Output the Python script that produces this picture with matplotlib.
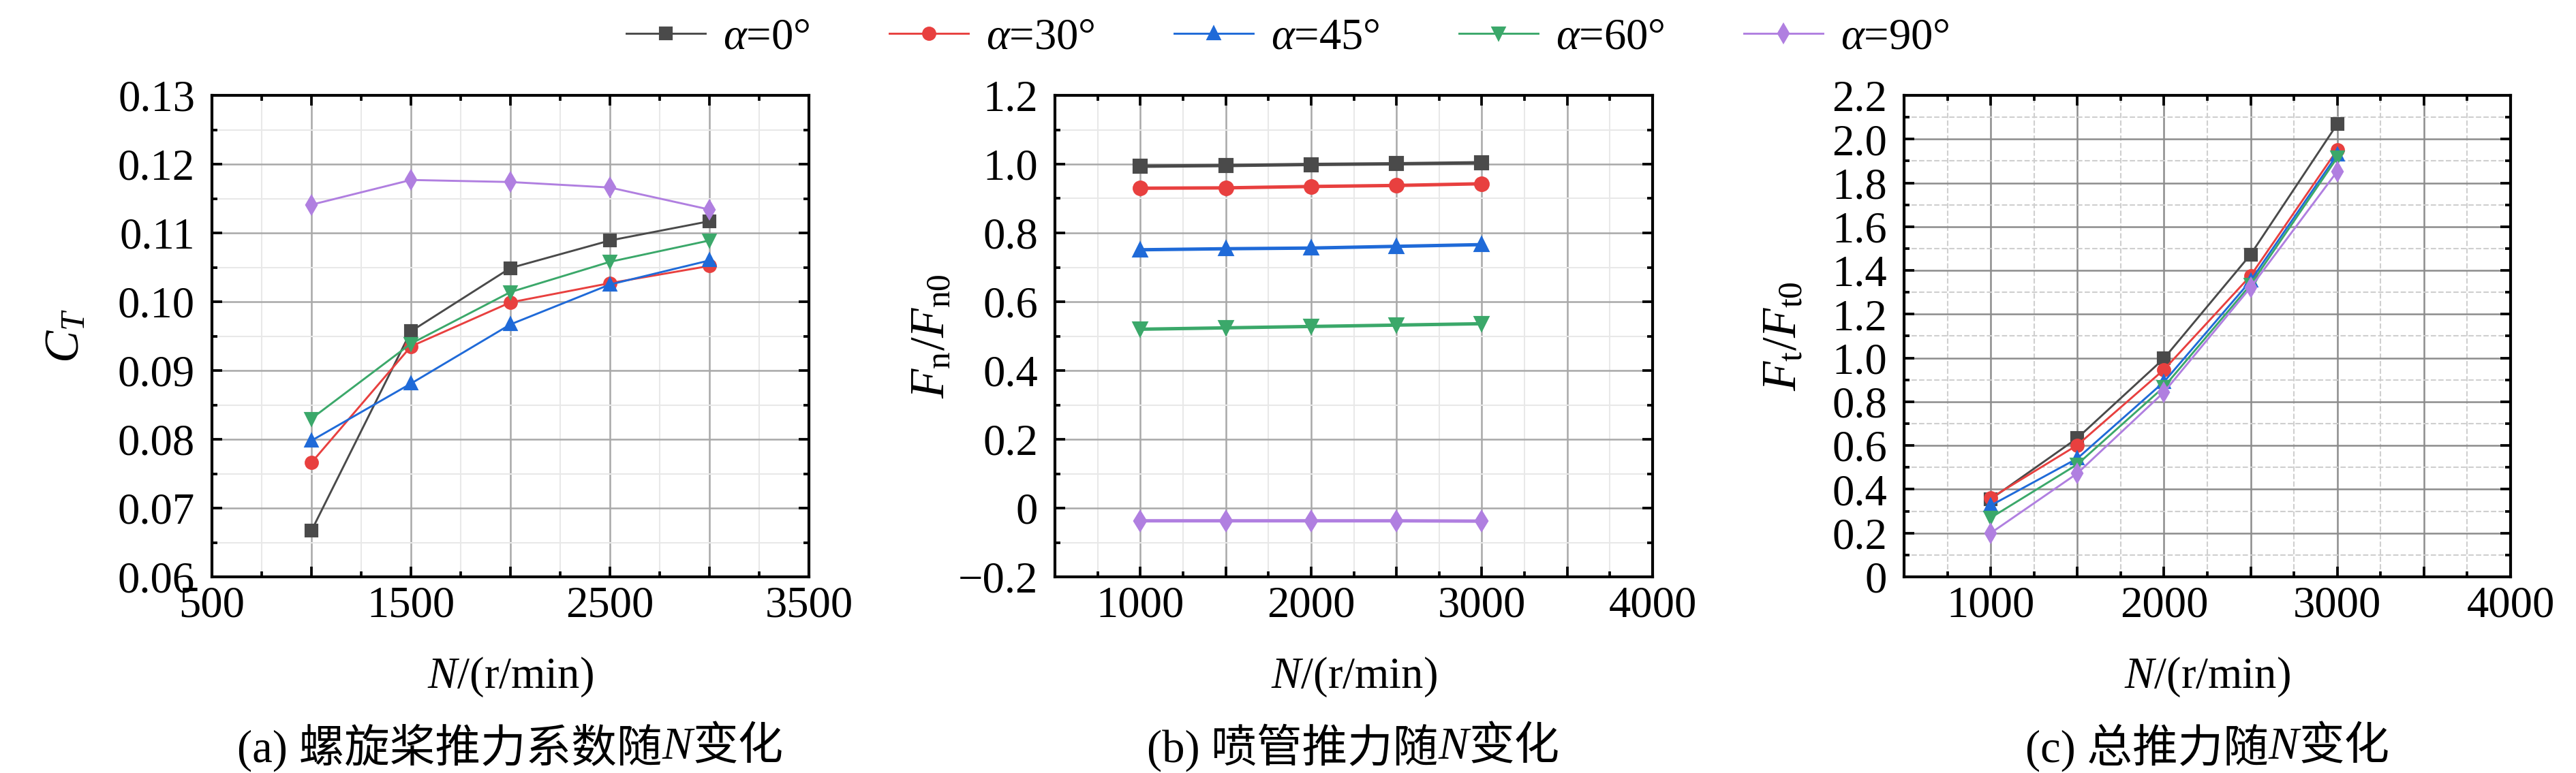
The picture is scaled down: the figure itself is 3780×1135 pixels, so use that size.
import matplotlib
matplotlib.use('Agg')
import matplotlib.pyplot as plt
from matplotlib.ticker import MultipleLocator

# 字体设置：西文用 Times 类字体，中文回退到 Noto Sans CJK
plt.rcParams['font.family'] = ['Liberation Serif', 'Noto Sans CJK SC']
plt.rcParams['mathtext.fontset'] = 'custom'
plt.rcParams['mathtext.rm'] = 'Liberation Serif'
plt.rcParams['mathtext.it'] = 'Liberation Serif:italic'
plt.rcParams['mathtext.bf'] = 'Liberation Serif:bold'
plt.rcParams['axes.unicode_minus'] = True

# 数据
speeds = [1000, 1500, 2000, 2500, 3000]
angle_labels = ['$\\alpha$=0°', '$\\alpha$=30°', '$\\alpha$=45°', '$\\alpha$=60°', '$\\alpha$=90°']

# (a) 螺旋桨推力系数 C_T
ct_a0 = [0.0667, 0.0957, 0.1049, 0.1089, 0.1117]
ct_a30 = [0.0766, 0.0935, 0.0999, 0.1027, 0.1052]
ct_a45 = [0.0798, 0.0881, 0.0967, 0.1025, 0.1060]
ct_a60 = [0.0830, 0.0939, 0.1014, 0.1058, 0.1089]
ct_a90 = [0.1141, 0.1177, 0.1174, 0.1166, 0.1134]

# (b) 喷管推力 Fn/Fn0
fn_a0 = [0.994, 0.996, 0.999, 1.001, 1.004]
fn_a30 = [0.930, 0.931, 0.935, 0.938, 0.943]
fn_a45 = [0.751, 0.754, 0.756, 0.761, 0.766]
fn_a60 = [0.520, 0.524, 0.528, 0.532, 0.536]
fn_a90 = [-0.037, -0.037, -0.037, -0.037, -0.038]

# (c) 总推力 Ft/Ft0
ft_a0 = [0.355, 0.634, 0.998, 1.473, 2.069]
ft_a30 = [0.360, 0.602, 0.947, 1.376, 1.951]
ft_a45 = [0.326, 0.541, 0.891, 1.353, 1.930]
ft_a60 = [0.270, 0.514, 0.868, 1.335, 1.916]
ft_a90 = [0.200, 0.473, 0.844, 1.323, 1.853]

# 刻度标签
xticks_a = [500, 1000, 1500, 2000, 2500, 3000, 3500]
xticklabels_a = ['500', '', '1500', '', '2500', '', '3500']
xticks_bc = [500, 1000, 1500, 2000, 2500, 3000, 3500, 4000]
xticklabels_bc = ['', '1000', '', '2000', '', '3000', '', '4000']
yticks_a = [0.06, 0.07, 0.08, 0.09, 0.10, 0.11, 0.12, 0.13]
yticklabels_a = ['0.06', '0.07', '0.08', '0.09', '0.10', '0.11', '0.12', '0.13']
yticks_b = [-0.2, 0, 0.2, 0.4, 0.6, 0.8, 1.0, 1.2]
yticklabels_b = ['\u22120.2', '0', '0.2', '0.4', '0.6', '0.8', '1.0', '1.2']
yticks_c = [0, 0.2, 0.4, 0.6, 0.8, 1.0, 1.2, 1.4, 1.6, 1.8, 2.0, 2.2]
yticklabels_c = ['0', '0.2', '0.4', '0.6', '0.8', '1.0', '1.2', '1.4', '1.6', '1.8', '2.0', '2.2']

colors = ['#4a4a4a', '#e8403f', '#1f6ad8', '#3ba86a', '#b07fe0']
markers = ['s', 'o', '^', 'v', 'd']

W, H = 3780, 1135
fig = plt.figure(figsize=(W / 300, H / 300), dpi=300)

ax1 = fig.add_axes([311 / W, 1 - 847 / H, 876 / W, 707 / H])
ax2 = fig.add_axes([1548 / W, 1 - 847 / H, 877 / W, 707 / H])
ax3 = fig.add_axes([2794 / W, 1 - 847 / H, 890 / W, 707 / H])

tick_fs = 15.5
serif = 'Liberation Serif'


def style_axis(ax, xticks, xlabels, yticks, ylabels, xminor, yminor, dashed_minor=False):
    ax.set_xticks(xticks)
    ax.set_xticklabels(xlabels, family=serif)
    ax.set_yticks(yticks)
    ax.set_yticklabels(ylabels, family=serif)
    ax.set_xlim(xticks[0], xticks[-1])
    ax.set_ylim(yticks[0], yticks[-1])
    ax.xaxis.set_minor_locator(MultipleLocator(xminor))
    ax.yaxis.set_minor_locator(MultipleLocator(yminor))
    ax.tick_params(which='both', direction='in', top=True, right=True, width=0.9,
                   labelsize=tick_fs)
    ax.tick_params(which='major', length=3.6)
    ax.tick_params(which='minor', length=2.0)
    ax.tick_params(axis='x', which='major', pad=3)
    ax.tick_params(axis='y', which='major', pad=6)
    for sp in ax.spines.values():
        sp.set_linewidth(1.0)
    ax.set_axisbelow(True)
    if dashed_minor:
        ax.grid(which='major', color='#8c8c8c', lw=0.6)
        ax.grid(which='minor', color='#cfcfcf', lw=0.5, ls='--')
    else:
        ax.grid(which='major', color='#a8a8a8', lw=0.6)
        ax.grid(which='minor', color='#e8e8e8', lw=0.5)
    ax.set_xlabel('$N$/(r/min)', fontsize=15.5, family=serif)
    ax.xaxis.set_label_coords(0.5, -(994 - 847) / 707)
    ax.xaxis.label.set_va('center')


# (a)
handles = []
for i, ys in enumerate([ct_a0, ct_a30, ct_a45, ct_a60, ct_a90]):
    ln, = ax1.plot(speeds, ys, color=colors[i], marker=markers[i], markersize=4,
                   lw=0.7, label=angle_labels[i])
    handles.append(ln)
style_axis(ax1, xticks_a, xticklabels_a, yticks_a, yticklabels_a, 250, 0.005)
ax1.set_ylabel('$C_T$', fontsize=17)
ax1.yaxis.set_label_coords(-0.244, 0.5)
ax1.yaxis.label.set_va('center')

# (b)
for i, ys in enumerate([fn_a0, fn_a30, fn_a45, fn_a60, fn_a90]):
    ax2.plot(speeds, ys, color=colors[i], marker=markers[i], markersize=4.5, lw=1.2)
style_axis(ax2, xticks_bc, xticklabels_bc, yticks_b, yticklabels_b, 250, 0.1)
ax2.set_ylabel('$F_\\mathrm{n}/F_\\mathrm{n0}$', fontsize=17)
ax2.yaxis.set_label_coords(-0.205, 0.5)
ax2.yaxis.label.set_va('center')

# (c)
for i, ys in enumerate([ft_a0, ft_a30, ft_a45, ft_a60, ft_a90]):
    ax3.plot(speeds, ys, color=colors[i], marker=markers[i], markersize=4, lw=0.7)
style_axis(ax3, xticks_bc, xticklabels_bc, yticks_c, yticklabels_c, 250, 0.1,
           dashed_minor=True)
ax3.set_ylabel('$F_\\mathrm{t}/F_\\mathrm{t0}$', fontsize=17)
ax3.yaxis.set_label_coords(-0.198, 0.5)
ax3.yaxis.label.set_va('center')

# 图例
fig.legend(handles, angle_labels, loc='center', bbox_to_anchor=(0.5, 1 - 56 / H),
           ncol=5, frameon=False, prop={'family': serif, 'size': 15.5},
           handlelength=1.8, handletextpad=0.4, columnspacing=1.8)


# 子图标题（中文 + 斜体 N）
def put_caption(xc, y, pieces):
    texts = []
    for s, italic in pieces:
        t = fig.text(0, y, s, fontsize=16, style='italic' if italic else 'normal',
                     family=[serif, 'Noto Sans CJK SC'],
                     ha='left', va='center')
        texts.append(t)
    renderer = fig.canvas.get_renderer()
    widths = [t.get_window_extent(renderer).width for t in texts]
    x = xc * W - sum(widths) / 2
    for t, w in zip(texts, widths):
        t.set_x(x / W)
        x += w


cap_y = 1 - 1098 / H
put_caption(749 / W, cap_y, [('(a) 螺旋桨推力系数随', False), ('N', True), ('变化', False)])
put_caption(1986 / W, cap_y, [('(b) 喷管推力随', False), ('N', True), ('变化', False)])
put_caption(3239 / W, cap_y, [('(c) 总推力随', False), ('N', True), ('变化', False)])

fig.savefig('out.png', dpi=300)
